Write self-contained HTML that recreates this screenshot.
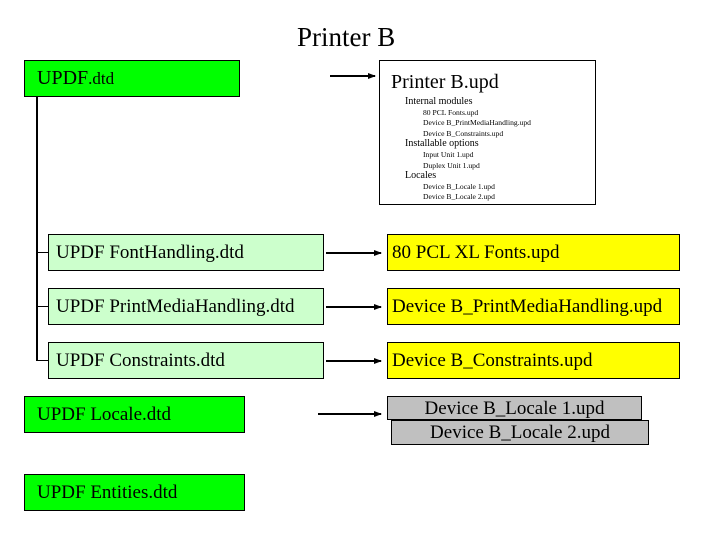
<!DOCTYPE html>
<html><head><style>
body{margin:0;width:720px;height:540px;background:#fff;position:relative;font-family:"Liberation Serif",serif;color:#000;overflow:hidden}
.b{position:absolute;box-sizing:border-box;border:1px solid #000;white-space:nowrap}
.l{position:absolute;background:#000}
.t{position:absolute;white-space:nowrap}
.s{font-size:7.6px;margin-left:18px}
</style></head><body>
<div class="t" style="left:297px;top:22px;font-size:27px">Printer B</div>
<div class="b" style="left:24px;top:60px;width:216px;height:37px;background:#00ff00;font-size:20px;padding:6px 0 0 12px">UPDF<span style="font-size:17px">.dtd</span></div>
<div class="b" style="left:379px;top:60px;width:217px;height:145px;background:#fff"></div>
<div class="t" style="left:391px;top:71px;font-size:20px">Printer B.upd</div>
<div class="t" style="left:405px;top:97px;font-size:10px;line-height:10.6px">Internal modules<br><span class="s">80 PCL Fonts.upd</span><br><span class="s">Device B_PrintMediaHandling.upd</span><br><span class="s">Device B_Constraints.upd</span><br>Installable options<br><span class="s">Input Unit 1.upd</span><br><span class="s">Duplex Unit 1.upd</span><br>Locales<br><span class="s">Device B_Locale 1.upd</span><br><span class="s">Device B_Locale 2.upd</span></div>

<div class="l" style="left:36px;top:96px;width:2px;height:265px"></div>
<div class="l" style="left:36px;top:252px;width:12px;height:1px"></div>
<div class="l" style="left:36px;top:306px;width:12px;height:1px"></div>
<div class="l" style="left:36px;top:360px;width:12px;height:1px"></div>

<div class="b" style="left:48px;top:234px;width:276px;height:37px;background:#ccffcc;font-size:19px;padding:7px 0 0 7px">UPDF FontHandling.dtd</div>
<div class="b" style="left:48px;top:288px;width:276px;height:37px;background:#ccffcc;font-size:19px;padding:7px 0 0 7px">UPDF PrintMediaHandling.dtd</div>
<div class="b" style="left:48px;top:342px;width:276px;height:37px;background:#ccffcc;font-size:19px;padding:7px 0 0 7px">UPDF Constraints.dtd</div>
<div class="b" style="left:387px;top:234px;width:293px;height:37px;background:#ffff00;font-size:19px;padding:7px 0 0 4px">80 PCL XL Fonts.upd</div>
<div class="b" style="left:387px;top:288px;width:293px;height:37px;background:#ffff00;font-size:19px;padding:7px 0 0 4px">Device B_PrintMediaHandling.upd</div>
<div class="b" style="left:387px;top:342px;width:293px;height:37px;background:#ffff00;font-size:19px;padding:7px 0 0 4px">Device B_Constraints.upd</div>
<div class="b" style="left:24px;top:396px;width:221px;height:37px;background:#00ff00;font-size:19px;padding:7px 0 0 12px">UPDF Locale.dtd</div>
<div class="b" style="left:387px;top:396px;width:255px;height:24px;background:#c0c0c0;font-size:19px;text-align:center;line-height:23px">Device B_Locale 1.upd</div>
<div class="b" style="left:391px;top:420px;width:258px;height:25px;background:#c0c0c0;font-size:19px;text-align:center;line-height:24px">Device B_Locale 2.upd</div>
<div class="b" style="left:24px;top:474px;width:221px;height:37px;background:#00ff00;font-size:19px;padding:7px 0 0 12px">UPDF Entities.dtd</div>

<svg style="position:absolute;left:0;top:0" width="720" height="540">
<defs><marker id="a" markerWidth="8" markerHeight="8" refX="7" refY="4" orient="auto" markerUnits="userSpaceOnUse"><path d="M0,1 L8,4 L0,7z" fill="#000"/></marker></defs>
<g stroke="#000" stroke-width="2" marker-end="url(#a)">
<line x1="330" y1="76" x2="375" y2="76"/>
<line x1="326" y1="253" x2="381" y2="253"/>
<line x1="326" y1="307" x2="381" y2="307"/>
<line x1="326" y1="361" x2="381" y2="361"/>
<line x1="318" y1="414" x2="381" y2="414"/>
</g></svg>
</body></html>
